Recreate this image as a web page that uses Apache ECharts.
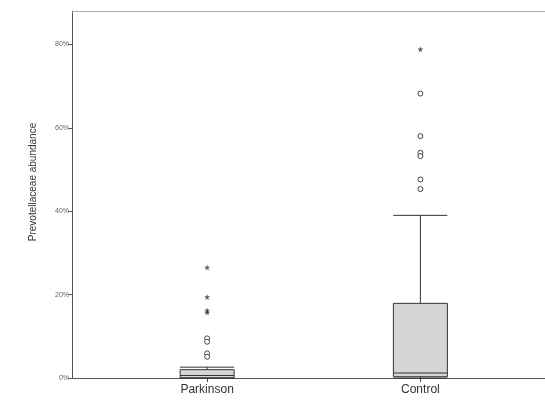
<!DOCTYPE html>
<html>
<head>
<meta charset="utf-8">
<script src="https://cdn.jsdelivr.net/npm/echarts@6/dist/echarts.min.js"></script>
<style>
html,body{margin:0;padding:0;background:#fff;}
#c{width:545px;height:404px;}
</style>
</head>
<body>
<div id="c"></div>
<script>
// ---- data (fractions of 1) ----
var categories = ['Parkinson', 'Control'];
// [min, Q1, median, Q3, max]
var boxValues = [
  [0.0, 0.0, 0.006, 0.020, 0.026],
  [0.0, 0.003, 0.012, 0.179, 0.390]
];
// mild outliers (circles): [categoryIndex, value]
var circleOutliers = [
  [0, 0.095], [0, 0.087], [0, 0.059], [0, 0.051],
  [1, 0.682], [1, 0.580], [1, 0.540], [1, 0.532], [1, 0.476], [1, 0.453]
];
// extreme outliers (stars)
var starOutliers = [
  [0, 0.265], [0, 0.194], [0, 0.162], [0, 0.157],
  [1, 0.788]
];
var yTicks = [0, 0.2, 0.4, 0.6, 0.8];
var yMax = 0.88;

var chart = echarts.init(document.getElementById('c'), null, {renderer: 'canvas'});
var fmt = function (v) { return Math.round(v * 100) + '%'; };
chart.setOption({
  backgroundColor: '#ffffff',
  animation: false,
  graphic: [{
    type: 'text', x: 33, y: 182, rotation: Math.PI / 2,
    style: {
      text: 'Prevotellaceae abundance', fill: '#333',
      font: '10px "Liberation Sans", Arial, sans-serif',
      textAlign: 'center', textVerticalAlign: 'middle'
    }
  }],
  grid: [
    {left: 72, right: 0, top: 11, bottom: 26},
    {left: 100.5, right: 18, top: 11, bottom: 26}
  ],
  xAxis: [
    {gridIndex: 0, type: 'value', min: 0, max: 1, position: 'bottom',
      axisLine: {show: true, onZero: false, lineStyle: {color: '#555', width: 1}},
      axisTick: {show: false}, axisLabel: {show: false}, splitLine: {show: false}},
    {gridIndex: 1, type: 'category', data: categories, boundaryGap: true,
      axisLine: {show: false},
      axisTick: {show: true, alignWithLabel: true, length: 4, lineStyle: {color: '#444'}},
      axisLabel: {margin: 6, color: '#333', fontSize: 12, fontFamily: '"Liberation Sans", Arial, sans-serif'},
      splitLine: {show: false}},
    {gridIndex: 0, type: 'value', min: 0, max: 1, position: 'top',
      axisLine: {show: true, onZero: false, lineStyle: {color: '#aaa', width: 1}},
      axisTick: {show: false}, axisLabel: {show: false}, splitLine: {show: false}}
  ],
  yAxis: [
    {gridIndex: 0, type: 'value', min: 0, max: yMax, interval: 0.2,
      axisLine: {show: true, onZero: false, lineStyle: {color: '#555', width: 1}},
      axisTick: {show: true, inside: false, length: 4, customValues: yTicks, lineStyle: {color: '#555'}},
      axisLabel: {customValues: yTicks, formatter: fmt, color: '#666', fontSize: 7, margin: 3, fontFamily: '"Liberation Sans", Arial, sans-serif'},
      splitLine: {show: false}},
    {gridIndex: 1, type: 'value', min: 0, max: yMax, show: false}
  ],
  series: [
    {type: 'boxplot', xAxisIndex: 1, yAxisIndex: 1, data: boxValues, boxWidth: [54, 54],
      itemStyle: {color: '#d6d6d6', borderColor: '#333', borderWidth: 1}},
    {type: 'scatter', xAxisIndex: 1, yAxisIndex: 1, data: circleOutliers, symbol: 'circle', symbolSize: 5,
      itemStyle: {color: '#ffffff', borderColor: '#444', borderWidth: 1, opacity: 1}},
    {type: 'scatter', xAxisIndex: 1, yAxisIndex: 1, data: starOutliers,
      symbol: 'path://M0,-5L1.2,-1.6L5,-1.6L1.9,0.6L3.1,4.2L0,2L-3.1,4.2L-1.9,0.6L-5,-1.6L-1.2,-1.6Z', symbolSize: 6,
      itemStyle: {color: '#333'}}
  ]
});
</script>
</body>
</html>
